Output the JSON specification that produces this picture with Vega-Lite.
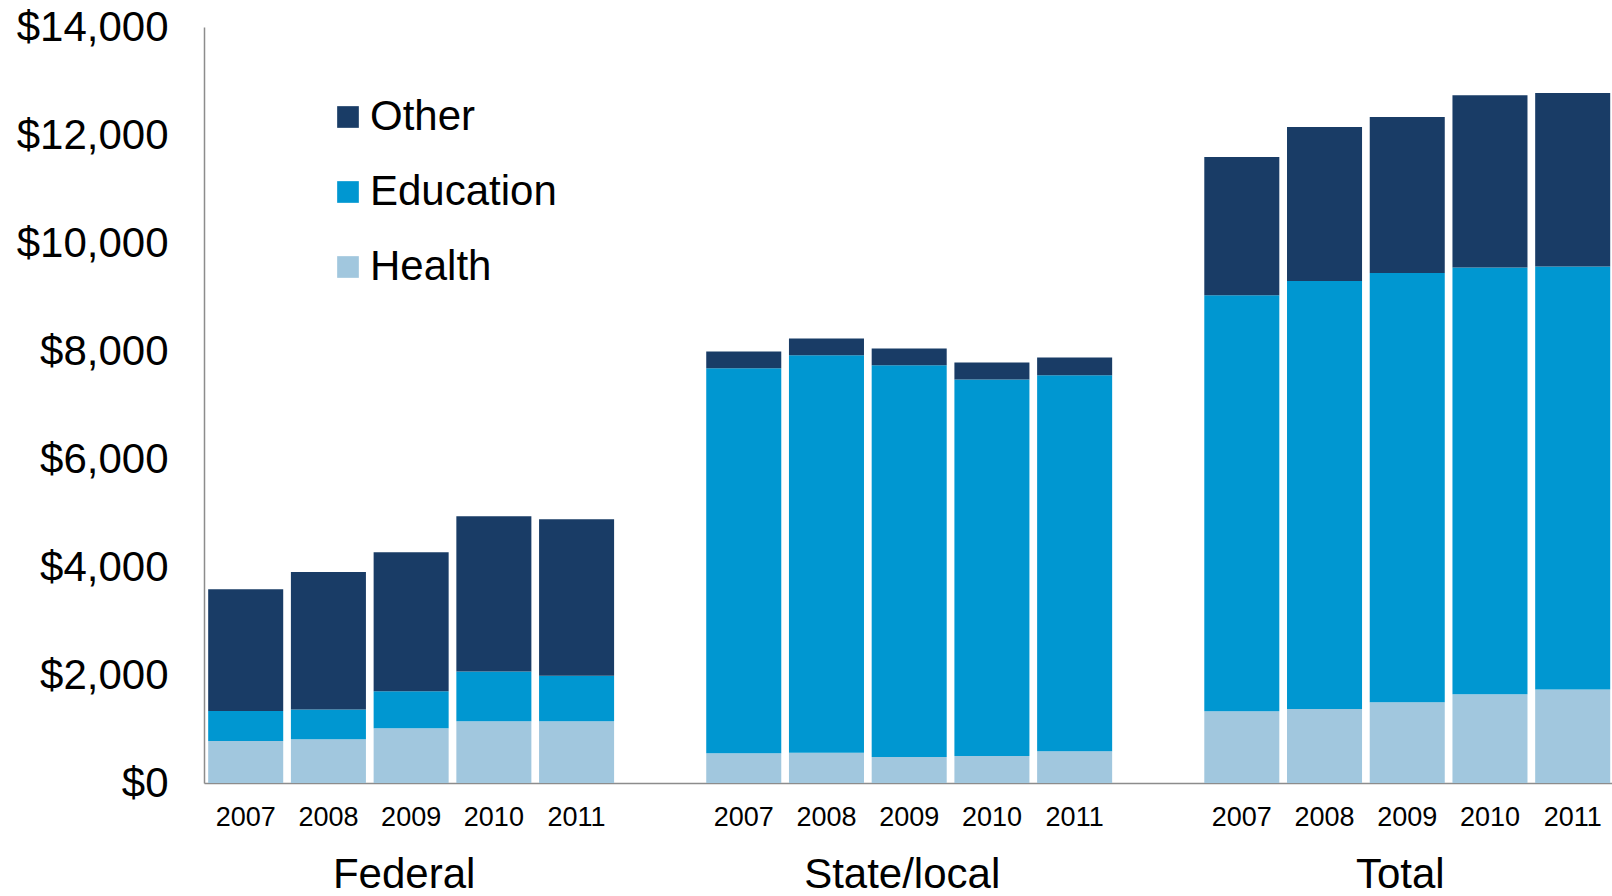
{
  "$schema": "https://vega.github.io/schema/vega-lite/v6.json",
  "width": 1408,
  "height": 756,
  "autosize": "none",
  "padding": {"left": 204, "top": 27, "right": 0, "bottom": 113},
  "background": "white",
  "config": {"font": "Liberation Sans", "view": {"stroke": null}},
  "data": {
    "values": [
      {"group": "Federal", "year": "2007", "component": "Health", "value": 778},
      {"group": "Federal", "year": "2007", "component": "Education", "value": 555},
      {"group": "Federal", "year": "2007", "component": "Other", "value": 2254},
      {"group": "Federal", "year": "2008", "component": "Health", "value": 809},
      {"group": "Federal", "year": "2008", "component": "Education", "value": 550},
      {"group": "Federal", "year": "2008", "component": "Other", "value": 2550},
      {"group": "Federal", "year": "2009", "component": "Health", "value": 1013},
      {"group": "Federal", "year": "2009", "component": "Education", "value": 685},
      {"group": "Federal", "year": "2009", "component": "Other", "value": 2574},
      {"group": "Federal", "year": "2010", "component": "Health", "value": 1143},
      {"group": "Federal", "year": "2010", "component": "Education", "value": 920},
      {"group": "Federal", "year": "2010", "component": "Other", "value": 2876},
      {"group": "Federal", "year": "2011", "component": "Health", "value": 1143},
      {"group": "Federal", "year": "2011", "component": "Education", "value": 844},
      {"group": "Federal", "year": "2011", "component": "Other", "value": 2896},
      {"group": "State/local", "year": "2007", "component": "Health", "value": 550},
      {"group": "State/local", "year": "2007", "component": "Education", "value": 7130},
      {"group": "State/local", "year": "2007", "component": "Other", "value": 309},
      {"group": "State/local", "year": "2008", "component": "Health", "value": 561},
      {"group": "State/local", "year": "2008", "component": "Education", "value": 7359},
      {"group": "State/local", "year": "2008", "component": "Other", "value": 310},
      {"group": "State/local", "year": "2009", "component": "Health", "value": 481},
      {"group": "State/local", "year": "2009", "component": "Education", "value": 7254},
      {"group": "State/local", "year": "2009", "component": "Other", "value": 309},
      {"group": "State/local", "year": "2010", "component": "Health", "value": 499},
      {"group": "State/local", "year": "2010", "component": "Education", "value": 6971},
      {"group": "State/local", "year": "2010", "component": "Other", "value": 315},
      {"group": "State/local", "year": "2011", "component": "Health", "value": 587},
      {"group": "State/local", "year": "2011", "component": "Education", "value": 6963},
      {"group": "State/local", "year": "2011", "component": "Other", "value": 328},
      {"group": "Total", "year": "2007", "component": "Health", "value": 1328},
      {"group": "Total", "year": "2007", "component": "Education", "value": 7703},
      {"group": "Total", "year": "2007", "component": "Other", "value": 2562},
      {"group": "Total", "year": "2008", "component": "Health", "value": 1370},
      {"group": "Total", "year": "2008", "component": "Education", "value": 7926},
      {"group": "Total", "year": "2008", "component": "Other", "value": 2852},
      {"group": "Total", "year": "2009", "component": "Health", "value": 1494},
      {"group": "Total", "year": "2009", "component": "Education", "value": 7950},
      {"group": "Total", "year": "2009", "component": "Other", "value": 2889},
      {"group": "Total", "year": "2010", "component": "Health", "value": 1642},
      {"group": "Total", "year": "2010", "component": "Education", "value": 7902},
      {"group": "Total", "year": "2010", "component": "Other", "value": 3191},
      {"group": "Total", "year": "2011", "component": "Health", "value": 1730},
      {"group": "Total", "year": "2011", "component": "Education", "value": 7833},
      {"group": "Total", "year": "2011", "component": "Other", "value": 3215}
    ]
  },
  "layer": [
    {
      "transform": [{"calculate": "indexof(['Health','Education','Other'], datum.component)", "as": "stackRank"}],
      "mark": {"type": "bar"},
      "encoding": {
        "x": {
          "field": "group", "type": "nominal",
          "sort": ["Federal", "State/local", "Total"],
          "scale": {"paddingInner": 0.185, "paddingOuter": 0.006, "align": 0.7},
          "axis": {
            "title": null, "orient": "bottom", "labelAngle": 0,
            "ticks": false, "tickSize": 0,
            "domainColor": "#8c8c8c", "domainWidth": 1.5,
            "labelFontSize": 42, "labelColor": "black", "labelLimit": 0,
            "labelBaseline": "alphabetic", "labelPadding": 104, "labelOffset": -7
          }
        },
        "xOffset": {
          "field": "year", "type": "ordinal",
          "scale": {"paddingInner": 0.093, "paddingOuter": 0}
        },
        "y": {
          "field": "value", "type": "quantitative", "stack": "zero",
          "scale": {"domain": [0, 14000], "nice": false},
          "axis": {
            "title": null, "values": [0, 2000, 4000, 6000, 8000, 10000, 12000, 14000],
            "format": "$,.0f", "grid": false, "ticks": false, "tickSize": 0,
            "domainColor": "#8c8c8c", "domainWidth": 1.5,
            "labelFontSize": 42, "labelColor": "black", "labelPadding": 36
          }
        },
        "order": {"field": "stackRank", "type": "quantitative", "sort": "ascending"},
        "color": {
          "field": "component", "type": "nominal",
          "scale": {"domain": ["Health", "Education", "Other"], "range": ["#a1c7de", "#0097d1", "#193c66"]},
          "legend": {
            "orient": "none", "legendX": 123, "legendY": 69,
            "values": ["Other", "Education", "Health"],
            "title": null, "symbolType": "square", "symbolSize": 470,
            "symbolStrokeWidth": 0, "labelFontSize": 42, "labelColor": "black",
            "labelOffset": 1, "rowPadding": 33, "labelLimit": 0
          }
        }
      }
    },
    {
      "transform": [{"filter": "datum.component === 'Health'"}],
      "mark": {"type": "text", "fontSize": 27, "baseline": "middle", "color": "black"},
      "encoding": {
        "x": {"field": "group", "type": "nominal", "sort": ["Federal", "State/local", "Total"]},
        "xOffset": {"field": "year", "type": "ordinal"},
        "y": {"datum": -640, "type": "quantitative", "title": null},
        "text": {"field": "year"}
      }
    }
  ]
}
